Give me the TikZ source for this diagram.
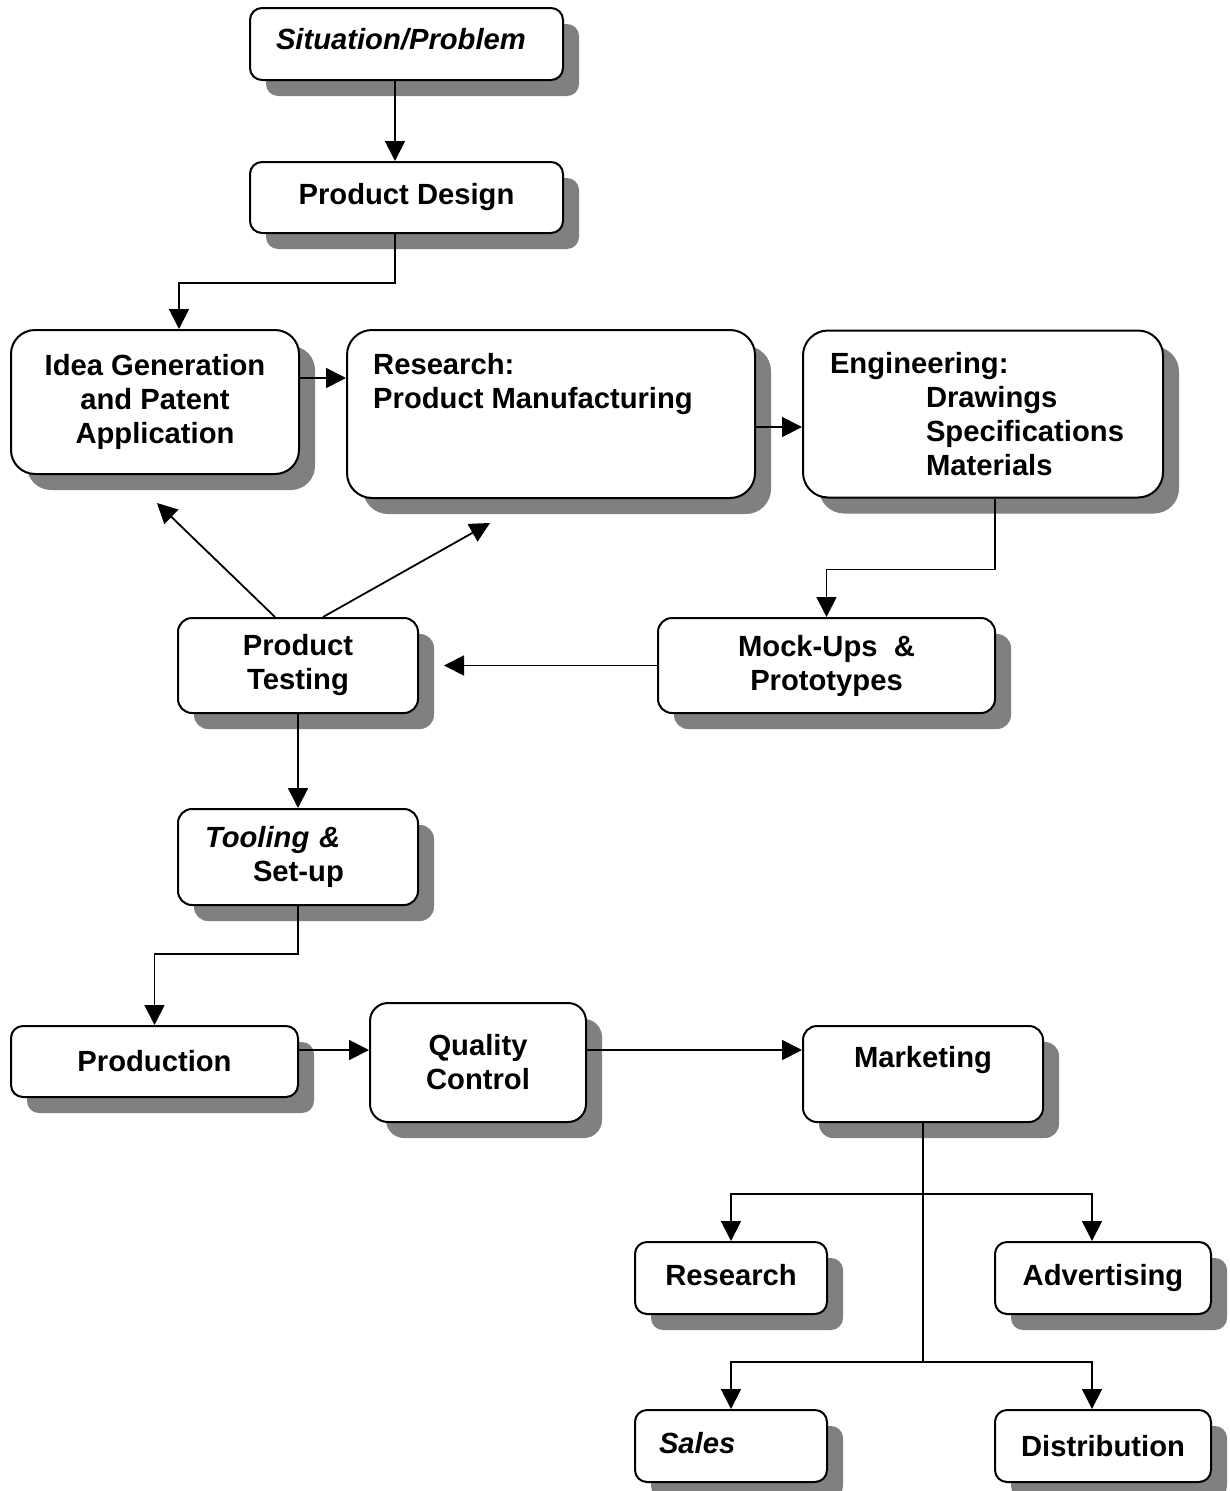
\documentclass[tikz,border=0pt]{standalone}
\usepackage{fontspec}
\setmainfont{Liberation Sans}
\usetikzlibrary{arrows.meta,shadows}

\begin{document}
\begin{tikzpicture}[x=1pt, y=-1pt,
        txt/.style={font=\bfseries\fontsize{29.2}{34}\selectfont},
        blk/.style={txt, draw, line width=2pt, fill=white, rounded corners=#1, align=center,
            general shadow={fill=black!50, shadow xshift=16pt, shadow yshift=-16pt}},
        blk/.default=12pt,
        lin/.style={line width=1.8pt},
        arr/.style={lin, -{Triangle[length=20pt,width=20pt]}}]

        \useasboundingbox (0,0) rectangle (1229,1491);

        % design chain
        \node[blk, minimum width=313pt, minimum height=72pt, text width=261pt, align=left, text depth=10pt] (situation) at (406.5,44) {\textit{Situation/Problem}};
        \node[blk, minimum width=313pt, minimum height=71pt] (design) at (406.5,197.5) {Product Design};
        \node[blk=24pt, minimum width=288pt, minimum height=144pt] (idea) at (155,402) {Idea Generation\\and Patent\\Application};
        \node[blk=25pt, minimum width=408pt, minimum height=168pt] (research) at (551,414) {};
        \node[txt, anchor=north west, align=left, inner sep=0pt] (research-text) at ([xshift=27pt,yshift=-24pt]research.north west) {Research:\\Product Manufacturing};
        \node[blk=25pt, minimum width=360pt, minimum height=167pt, text width=306pt, align=left] (engineering) at (983,414)
            {Engineering:\\\hspace*{96pt}Drawings\\\hspace*{96pt}Specifications\\\hspace*{96pt}Materials};
        \node[blk=14pt, minimum width=337pt, minimum height=95pt] (mockups) at (826.5,665.5) {Mock-Ups\ \ \&\\Prototypes};
        \node[blk=14pt, minimum width=240pt, minimum height=95pt] (testing) at (298,665.5) {Product\\Testing};
        \node[blk=14pt, minimum width=240pt, minimum height=96pt, text width=186pt, align=left] (tooling) at (298,857) {\textit{Tooling \&}\\\hspace*{48pt}Set-up};

        % production and marketing
        \node[blk, minimum width=287pt, minimum height=71pt] (production) at (154.5,1061.5) {Production};
        \node[blk=18pt, minimum width=216pt, minimum height=119pt] (quality) at (478,1062.5) {Quality\\Control};
        \node[blk=14pt, minimum width=240pt, minimum height=96pt] (marketing) at (923,1074) {Marketing\\\mbox{}};
        \node[blk, minimum width=192pt, minimum height=72pt, text depth=7pt] (mktresearch) at (731,1278) {Research};
        \node[blk, minimum width=216pt, minimum height=72pt] (advertising) at (1103,1278) {Advertising};
        \node[blk, minimum width=192pt, minimum height=72pt, text width=144pt, align=left, text depth=7pt] (sales) at (731,1446) {\textit{Sales}};
        \node[blk, minimum width=216pt, minimum height=72pt] (distribution) at (1103,1446) {Distribution};

        % connectors
        \draw[arr] ([xshift=-11.5pt]situation.south) -- ([xshift=-11.5pt]design.north);
        \draw[arr] ([xshift=-11.5pt]design.south) -- ++(0,49) -| ([xshift=24pt]idea.north);
        \draw[arr] ([yshift=24pt]idea.east) -- ([yshift=36pt]research.west);
        \draw[arr] ([yshift=-13pt]research.east) -- ([yshift=-13pt]engineering.west);
        \draw[arr] ([xshift=12pt]engineering.south) -- ++(0,71) -| (mockups.north);
        \draw[arr] (mockups.west) -- ([xshift=25pt]testing.east);
        \draw[arr] ([xshift=-23pt]testing.north) -- ([xshift=2pt,yshift=-28pt]idea.south);
        \draw[arr] ([xshift=25pt]testing.north) -- ([xshift=-61pt,yshift=-24pt]research.south);
        \draw[arr] (testing) -- (tooling);
        \draw[arr] (tooling.south) -- ++(0,48) -| (production.north);
        \draw[arr] ([yshift=11.5pt]production.east) -- ([yshift=12.5pt]quality.west);
        \draw[arr] ([yshift=12.5pt]quality.east) -- ([yshift=24pt]marketing.west);

        \coordinate (fork1) at (923,1194);
        \coordinate (fork2) at (923,1362);
        \draw[lin] (marketing.south) -- (fork2);
        \draw[arr] (fork1) -| (mktresearch.north);
        \draw[arr] (fork1) -| ([xshift=-11pt]advertising.north);
        \draw[arr] (fork2) -| (sales.north);
        \draw[arr] (fork2) -| ([xshift=-11pt]distribution.north);
    \end{tikzpicture}
\end{document}
